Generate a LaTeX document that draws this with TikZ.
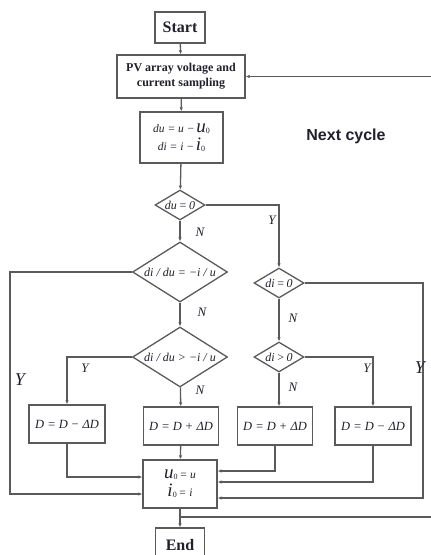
\documentclass[tikz,border=0pt]{standalone}
\usepackage{fontspec}
\setmainfont{Liberation Serif}
\newfontfamily\arialf{Liberation Sans}
\usetikzlibrary{shapes.geometric,arrows.meta}
\definecolor{lineclr}{HTML}{5A5A5A}
\definecolor{txtclr}{HTML}{20202E}
\newcommand{\bigvar}[1]{{\fontsize{19}{19}\selectfont\itshape #1}\raisebox{-1pt}{\fontsize{8}{8}\selectfont 0}}
\tikzset{
  line/.style={draw=lineclr, line width=1.3pt},
  arr/.style={line, -{Latex[length=4pt,width=3.5pt]}},
  box/.style={draw=lineclr, line width=1.4pt, fill=white, inner sep=0pt, text=txtclr, align=center},
  dia/.style={draw=lineclr, line width=1.3pt, fill=white, diamond, inner sep=0pt},
  dlab/.style={text=txtclr, inner sep=0pt, font=\fontsize{12}{14}\selectfont\itshape},
  lab/.style={text=txtclr, font=\fontsize{13}{13}\selectfont\itshape},
  dtext/.style={font=\fontsize{12.5}{14}\selectfont\itshape}
}
\begin{document}
\begin{tikzpicture}[x=1pt,y=-1pt]
\useasboundingbox (0,0) rectangle (431,555);
% nodes
\node[box, minimum width=50pt, minimum height=31pt, font=\fontsize{16}{16}\selectfont\bfseries] (start) at (180,27.5) {Start};
\node[box, minimum width=128pt, minimum height=43pt, font=\fontsize{12}{15}\selectfont\bfseries] (pv) at (181,76.5) {PV array voltage and\\current sampling};
\node[box, minimum width=83pt, minimum height=51pt] (calc) at (181.5,137.5)
  {{\fontsize{11.5}{12}\selectfont\itshape du = u −}\,\bigvar{u}\\[3pt]
   {\fontsize{11.5}{12}\selectfont\itshape di = i −}\,\bigvar{i}};
\node[dia, minimum width=50pt, minimum height=30pt, label={[dlab]center:du\,=\,0}] (d1) at (180,205) {};
\node[dia, minimum width=95pt, minimum height=60pt, label={[dlab]center:di / du = −i / u}] (d2) at (180,272) {};
\node[dia, minimum width=50pt, minimum height=30pt, label={[dlab]center:di\,=\,0}] (d3) at (279,283) {};
\node[dia, minimum width=95pt, minimum height=60pt, label={[dlab]center:di / du > −i / u}] (d4) at (180,357) {};
\node[dia, minimum width=50pt, minimum height=30pt, label={[dlab]center:di\,>\,0}] (d5) at (279,357) {};
\node[box, minimum width=76pt, minimum height=38pt, dtext] (b1) at (67,424) {D = D − ΔD};
\node[box, minimum width=75pt, minimum height=38pt, dtext] (b2) at (181,426) {D = D + ΔD};
\node[box, minimum width=75pt, minimum height=38pt, dtext] (b3) at (275,426) {D = D + ΔD};
\node[box, minimum width=76pt, minimum height=38pt, dtext] (b4) at (373,426) {D = D − ΔD};
\node[box, minimum width=74pt, minimum height=48pt] (u0) at (180,484)
  {\bigvar{u}{\fontsize{11.5}{12}\selectfont\itshape\,= u}\\[3pt]
   \bigvar{i}{\fontsize{11.5}{12}\selectfont\itshape\,= i}};
\node[box, minimum width=49pt, minimum height=34pt, font=\fontsize{16}{16}\selectfont\bfseries] (end) at (180,545) {End};
\node[text=txtclr, font=\arialf\fontsize{16}{16}\selectfont\bfseries] (nc) at (346,136) {Next cycle};
% coordinates
\coordinate (rtop) at (431,76.5);
\coordinate (lc) at (10,272);
\coordinate (lb) at (10,494);
\coordinate (rc) at (423,283);
\coordinate (rb) at (423,498);
\coordinate (h1) at (0,477);
\coordinate (h3) at (0,471);
\coordinate (h4) at (0,482);
\coordinate (loopA) at (180,517);
\coordinate (loopB) at (431,517);
% connectors
\draw[arr] (start) -- (pv);
\draw[arr] (pv) -- (calc);
\draw[arr] (calc) -- (d1);
\draw[arr] (d1) -- (d2);
\draw[arr] (d1.east) -| (d3.north);
\draw[arr] (d2) -- (d4);
\draw[arr] (d2.west) -- (lc) -- (lb) -- (lb -| u0.west);
\draw[arr] (d4.west) -| (b1.north);
\draw[arr] (d4) -- (b2);
\draw[arr] (d3) -- (d5);
\draw[arr] (d3.east) -- (rc) -- (rb) -- (rb -| u0.east);
\draw[arr] (d5.east) -| (b4.north);
\draw[arr] (d5.south) -- (d5.south |- b3.north);
\draw[arr] (b1.south) |- (u0.west |- h1);
\draw[arr] (b2) -- (u0);
\draw[arr] (b3.south) |- (u0.east |- h3);
\draw[arr] (b4.south) |- (u0.east |- h4);
\draw[arr] (u0) -- (end);
\draw[line] (loopA) -- (loopB);
\draw[arr] (rtop) -- (pv.east);
% labels
\node[lab] (n1) at (200,232) {N};
\node[lab] (y1) at (272,220) {Y};
\node[lab] (n2) at (202,312) {N};
\node[lab] (n3) at (293,318) {N};
\node[lab] (y2) at (85,368) {Y};
\node[lab] (n4) at (200,390) {N};
\node[lab] (n5) at (293,387) {N};
\node[lab] (y3) at (367,368) {Y};
\node[lab, font=\fontsize{18}{18}\selectfont\itshape] (y4) at (420,368) {Y};
\node[lab, font=\fontsize{18}{18}\selectfont\itshape] (y5) at (20,380) {Y};
\end{tikzpicture}
\end{document}
